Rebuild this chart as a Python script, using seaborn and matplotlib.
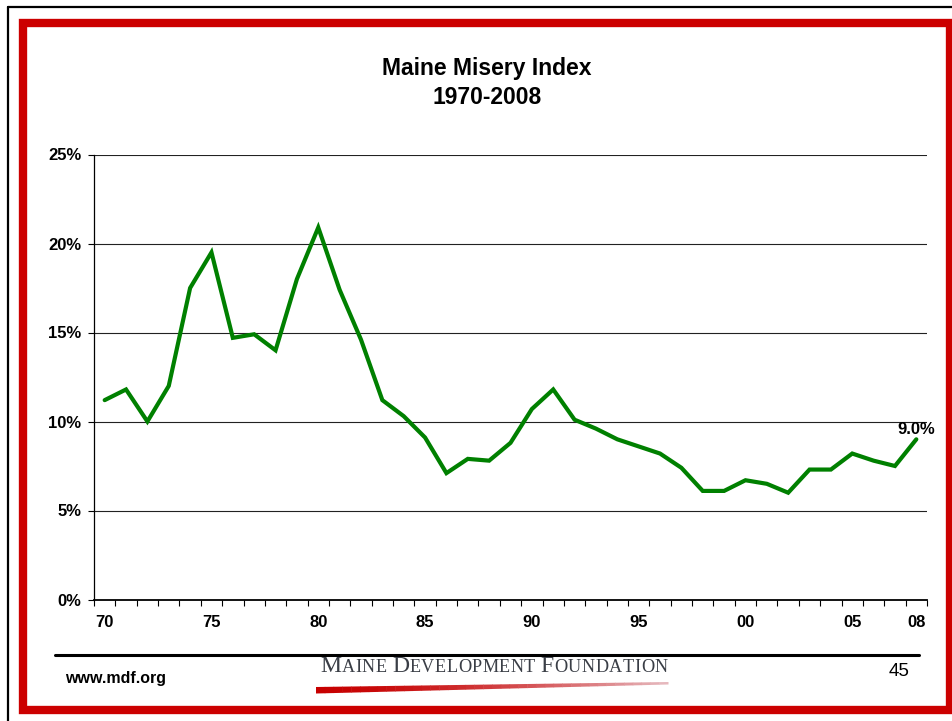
import numpy as np
import pandas as pd
import matplotlib
matplotlib.use("Agg")
import matplotlib.pyplot as plt
from matplotlib.patches import Rectangle, Polygon
from matplotlib.lines import Line2D
import seaborn as sns

# Maine Misery Index (unemployment + inflation), percent
years = list(range(1970, 2009))
misery = [11.2, 11.8, 10.0, 12.0, 17.5, 19.5, 14.7, 14.9, 14.0, 18.0,
          20.9, 17.4, 14.6, 11.2, 10.3, 9.1, 7.1, 7.9, 7.8, 8.8,
          10.7, 11.8, 10.1, 9.6, 9.0, 8.6, 8.2, 7.4, 6.1, 6.1,
          6.7, 6.5, 6.0, 7.3, 7.3, 8.2, 7.8, 7.5, 9.0]
tick_years = [1970, 1975, 1980, 1985, 1990, 1995, 2000, 2005, 2008]
tick_labels = ["70", "75", "80", "85", "90", "95", "00", "05", "08"]
y_ticks = [0, 5, 10, 15, 20, 25]

W, H = 952, 721
sns.set_theme(style="white")
plt.rcParams["font.family"] = ["Liberation Sans", "DejaVu Sans"]
plt.rcParams.update({"text.color": "black", "xtick.color": "black",
                     "ytick.color": "black", "axes.labelcolor": "black"})

fig = plt.figure(figsize=(W / 100, H / 100), dpi=100)
fig.patch.set_facecolor("white")


def fx(px):
    return px / W


def fy(py):
    return 1 - py / H


ax = fig.add_axes([fx(94), fy(599.5), fx(927) - fx(94), fy(154.5) - fy(599.5)])

df = pd.DataFrame({"idx": np.arange(len(years)), "misery": misery})
sns.lineplot(data=df, x="idx", y="misery", ax=ax, color="#008000",
             linewidth=3.0, solid_joinstyle="miter")

ax.set_xlim(-0.5, len(years) - 0.5)
ax.set_ylim(0, 25)
ax.set_xlabel("")
ax.set_ylabel("")

# horizontal gridlines
for v in y_ticks[1:]:
    ax.axhline(v, color="#222222", linewidth=0.8, zorder=0)

ax.set_yticks(y_ticks)
ax.set_yticklabels([f"{v}%" for v in y_ticks], fontsize=12, fontweight="bold")
ax.tick_params(axis="y", which="major", left=True, length=4, width=0.8,
               color="black", direction="out", pad=5)

pos = [years.index(y) for y in tick_years]
ax.set_xticks(pos)
ax.set_xticklabels(tick_labels, fontsize=12, fontweight="bold")
ax.set_xticks(np.arange(-0.5, len(years), 1), minor=True)
ax.tick_params(axis="x", which="major", bottom=True, length=0, pad=11.5)
ax.tick_params(axis="x", which="minor", bottom=True, length=4, width=0.8,
               color="black", direction="out")

for side in ["top", "right"]:
    ax.spines[side].set_visible(False)
ax.spines["left"].set_color("black")
ax.spines["left"].set_linewidth(0.9)
ax.spines["bottom"].set_color("black")
ax.spines["bottom"].set_linewidth(1.3)

# label for the latest value
last = misery[-1]
ax.annotate(f"{last:.1f}%", xy=(len(years) - 1, last), xytext=(0, 2),
            textcoords="offset points", ha="center", va="bottom",
            fontsize=12, fontweight="bold", annotation_clip=False)

# title
fig.text(fx(487), fy(68), "Maine Misery Index", ha="center", va="center",
         fontsize=16.5, fontweight="bold")
fig.text(fx(487), fy(98), "1970-2008", ha="center", va="center",
         fontsize=16.5, fontweight="bold")

# page frame: black outer rule and red border
fig.add_artist(Line2D([fx(8), fx(8)], [fy(7), 0], color="black", linewidth=1.6,
                      transform=fig.transFigure))
fig.add_artist(Line2D([fx(8), 1], [fy(7), fy(7)], color="black", linewidth=1.6,
                      transform=fig.transFigure))
fig.add_artist(Rectangle((fx(23), fy(710)), fx(950) - fx(23), fy(22.5) - fy(710),
                         fill=False, edgecolor="#CC0000", linewidth=6,
                         transform=fig.transFigure, joinstyle="miter"))

# footer
fig.add_artist(Line2D([fx(55), fx(919)], [fy(654.5), fy(654.5)], color="black",
                      linewidth=2.2, transform=fig.transFigure))
fig.text(fx(65), fy(678), "www.mdf.org", ha="left", va="center",
         fontsize=11.5, fontweight="bold")
fig.text(fx(899), fy(672), "45", ha="center", va="center", fontsize=13.5)

# foundation wordmark in letter-spaced small caps
words = ["Maine", "Development", "Foundation"]
big, small = 12.0, 9.2
tracking = 0.5
glyphs = []
for wi, word in enumerate(words):
    for ci, ch in enumerate(word.upper()):
        is_big = ci == 0
        t = fig.text(0, fy(672), ch, ha="left", va="baseline",
                     fontsize=big if is_big else small, color="#3a3e46",
                     family=["Liberation Serif", "DejaVu Serif"])
        glyphs.append((t, is_big, ci == len(word) - 1 and wi < len(words) - 1))
fig.canvas.draw()
renderer = fig.canvas.get_renderer()
space_w = 5.0


def layout_width():
    w = 0
    for t, _, word_end in glyphs:
        w += t.get_window_extent(renderer).width + tracking
        if word_end:
            w += space_w
    return w


fixed = tracking * len(glyphs) + space_w * 2
scale = (347 - fixed) / (layout_width() - fixed)
for t, is_big, _ in glyphs:
    t.set_fontsize((big if is_big else small) * scale)
fig.canvas.draw()
x = 320
for t, _, word_end in glyphs:
    t.set_x(fx(x))
    x += t.get_window_extent(renderer).width + tracking
    if word_end:
        x += space_w

# red swoosh under the wordmark
n = 40
xs = np.linspace(316, 668, n + 1)
top = np.linspace(687, 682, n + 1)
bot = np.linspace(693.5, 684.5, n + 1)
c0 = np.array([0.78, 0.0, 0.0])
c1 = np.array([0.90, 0.72, 0.74])
for i in range(n):
    f = (i / (n - 1)) ** 1.6
    col = c0 * (1 - f) + c1 * f
    poly = Polygon([(fx(xs[i]), fy(top[i])), (fx(xs[i + 1] + 0.5), fy(top[i + 1])),
                    (fx(xs[i + 1] + 0.5), fy(bot[i + 1])), (fx(xs[i]), fy(bot[i]))],
                   closed=True, facecolor=col, edgecolor="none",
                   transform=fig.transFigure)
    fig.add_artist(poly)

fig.savefig("out.png", dpi=100, facecolor="white")
